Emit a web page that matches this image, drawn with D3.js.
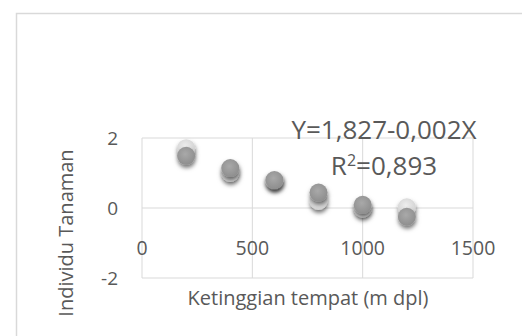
<!DOCTYPE html>
<html><head><meta charset="utf-8">
<script src="https://cdn.jsdelivr.net/npm/d3@7"></script>
<style>body{margin:0;background:#fff;} svg{display:block;}</style>
</head><body>
<svg id="c" width="522" height="336"></svg>
<script>
const altitudes = [200, 400, 600, 800, 1000, 1200];
const observed = [1.71, 1.00, 0.78, 0.20, -0.02, 0.02];
const predicted = [1.49, 1.14, 0.80, 0.44, 0.09, -0.25];
const xTicks = [0, 500, 1000, 1500];
const yTicks = [-2, 0, 2];
const equationText = "Y=1,827-0,002X";
const r2Value = "=0,893";
const xTitle = "Ketinggian tempat (m dpl)";
const yTitle = "Individu Tanaman";

const svg = d3.select("#c");
const font = "'Open Sans', sans-serif";
const textColor = "#595959";
const gridColor = "#d9d9d9";

const x = d3.scaleLinear().domain([0, 1500]).range([142, 473]);
const y = d3.scaleLinear().domain([-2, 2]).range([278, 138]);

// outer chart border
svg.append("rect").attr("x", 16.5).attr("y", 13.5).attr("width", 540).attr("height", 360)
  .attr("fill", "none").attr("stroke", gridColor).attr("stroke-width", 1.5);

const defs = svg.append("defs");
const f = defs.append("filter").attr("id", "sh").attr("x", "-50%").attr("y", "-50%").attr("width", "200%").attr("height", "220%");
f.append("feDropShadow").attr("dx", 0.5).attr("dy", 3).attr("stdDeviation", 2)
  .attr("flood-color", "#000").attr("flood-opacity", 0.55);
const g1 = defs.append("radialGradient").attr("id", "gDark").attr("cx", "45%").attr("cy", "40%").attr("r", "60%");
g1.append("stop").attr("offset", "0%").attr("stop-color", "#a9a9a9");
g1.append("stop").attr("offset", "100%").attr("stop-color", "#8e8e8e");
const g2 = defs.append("radialGradient").attr("id", "gLight").attr("cx", "45%").attr("cy", "40%").attr("r", "60%");
g2.append("stop").attr("offset", "0%").attr("stop-color", "#eeeeee");
g2.append("stop").attr("offset", "100%").attr("stop-color", "#d2d2d2");

// gridlines
svg.append("g").selectAll("line").data(xTicks).join("line")
  .attr("x1", d => x(d)).attr("x2", d => x(d)).attr("y1", 138).attr("y2", 278)
  .attr("stroke", gridColor).attr("stroke-width", 1);
svg.append("g").selectAll("line").data(yTicks).join("line")
  .attr("x1", 142).attr("x2", 473).attr("y1", d => y(d)).attr("y2", d => y(d))
  .attr("stroke", gridColor).attr("stroke-width", 1);

// y tick labels
svg.append("g").selectAll("text").data(yTicks).join("text")
  .attr("x", 118).attr("y", d => y(d)).attr("dy", "0.35em").attr("text-anchor", "end")
  .attr("font-family", font).attr("font-size", 19).attr("fill", textColor)
  .text(d => String(d));

// x tick labels
svg.append("g").selectAll("text").data(xTicks).join("text")
  .attr("x", d => x(d)).attr("y", 248).attr("dy", "0.35em").attr("text-anchor", "middle")
  .attr("font-family", font).attr("font-size", 19.5).attr("fill", textColor)
  .text(d => d);

// axis titles
svg.append("text").attr("x", 308).attr("y", 298).attr("dy", "0.35em").attr("text-anchor", "middle")
  .attr("font-family", font).attr("font-size", 20).attr("fill", textColor).text(xTitle);
svg.append("text").attr("transform", "translate(66,233) rotate(-90)").attr("dy", "0.35em")
  .attr("text-anchor", "middle").attr("font-family", font).attr("font-size", 20)
  .attr("fill", textColor).text(yTitle);

// points
const pts = svg.append("g");
pts.selectAll("circle.l").data(altitudes).join("circle").attr("class", "l")
  .attr("cx", d => x(d)).attr("cy", (d, i) => y(observed[i])).attr("r", 9)
  .attr("fill", "url(#gLight)").attr("filter", "url(#sh)");
pts.selectAll("circle.d").data(altitudes).join("circle").attr("class", "d")
  .attr("cx", d => x(d)).attr("cy", (d, i) => y(predicted[i])).attr("r", 9)
  .attr("fill", "url(#gDark)").attr("filter", "url(#sh)");

// equation
svg.append("text").attr("x", 384).attr("y", 139).attr("text-anchor", "middle")
  .attr("font-family", font).attr("font-size", 26).attr("fill", textColor).text(equationText);
const r2 = svg.append("text").attr("x", 384).attr("y", 175).attr("text-anchor", "middle")
  .attr("font-family", font).attr("font-size", 26).attr("fill", textColor);
r2.append("tspan").text("R");
r2.append("tspan").attr("dy", -9).attr("font-size", 16).text("2");
r2.append("tspan").attr("dy", 9).text(r2Value);
</script>
</body></html>
